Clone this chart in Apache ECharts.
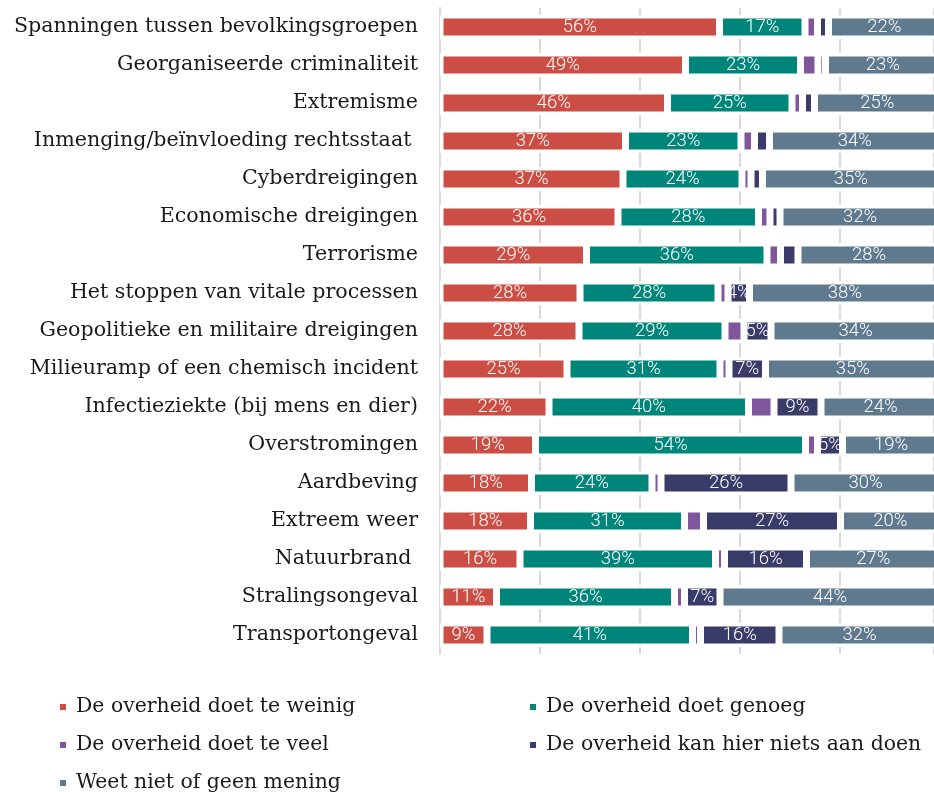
<!DOCTYPE html>
<html>
<head>
<meta charset="utf-8">
<script src="https://cdn.jsdelivr.net/npm/echarts@6/dist/echarts.min.js"></script>
<style>html,body{margin:0;padding:0;background:#fff;}#c{width:934px;height:792px;}</style>
</head>
<body>
<div id="c"></div>
<script>
const categories = [
  "Spanningen tussen bevolkingsgroepen",
  "Georganiseerde criminaliteit",
  "Extremisme",
  "Inmenging/beïnvloeding rechtsstaat ",
  "Cyberdreigingen",
  "Economische dreigingen",
  "Terrorisme",
  "Het stoppen van vitale processen",
  "Geopolitieke en militaire dreigingen",
  "Milieuramp of een chemisch incident",
  "Infectieziekte (bij mens en dier)",
  "Overstromingen",
  "Aardbeving",
  "Extreem weer",
  "Natuurbrand ",
  "Stralingsongeval",
  "Transportongeval"
];
const teWeinig = [55.9, 49.1, 45.5, 37.1, 36.6, 35.6, 29.3, 28.0, 27.8, 25.4, 21.8, 19.1, 18.3, 18.1, 16.0, 11.3, 9.4];
const genoeg   = [17.1, 23.0, 24.9, 23.1, 23.8, 28.1, 36.1, 27.6, 29.2, 30.6, 39.9, 54.0, 24.1, 30.8, 39.1, 35.6, 41.1];
const teVeel   = [2.5, 3.5, 2.1, 2.7, 1.8, 2.3, 2.7, 2.0, 3.8, 1.8, 5.1, 2.4, 1.8, 3.8, 1.8, 2.0, 1.6];
const nietsAan = [2.2, 1.5, 2.4, 3.0, 2.3, 2.0, 3.5, 4.3, 5.4, 7.3, 9.4, 5.0, 26.0, 27.4, 16.4, 7.1, 15.7];
const weetNiet = [22.3, 22.9, 25.1, 34.1, 35.3, 32.0, 28.4, 38.1, 33.8, 34.9, 23.8, 19.4, 29.8, 19.9, 26.7, 44.0, 32.2];

const seriesNames = [
  "De overheid doet te weinig",
  "De overheid doet genoeg",
  "De overheid doet te veel",
  "De overheid kan hier niets aan doen",
  "Weet niet of geen mening"
];
const seriesData = [teWeinig, genoeg, teVeel, nietsAan, weetNiet];
const colors = ["#cb4d43", "#00857a", "#7f559b", "#393b69", "#5f7a8f"];
const minLabel = [0, 0, 999, 3.9, 0];
const legendPos = [[53, 692], [523, 692], [53, 730], [523, 730], [53, 768]];

const chart = echarts.init(document.getElementById('c'), null, {renderer: 'canvas'});
const option = {
  animation: false,
  color: colors,
  grid: {left: 440, top: 8, width: 494, height: 646, containLabel: false},
  xAxis: {
    type: 'value', min: 0, max: 98.8, interval: 20,
    axisLabel: {show: false}, axisTick: {show: false}, axisLine: {show: false},
    splitLine: {show: true, lineStyle: {color: '#d9d9d9', width: 2}}
  },
  yAxis: {
    type: 'category', data: categories, inverse: true,
    axisTick: {show: false},
    axisLine: {show: true, lineStyle: {color: '#d9d9d9', width: 2}},
    axisLabel: {color: '#1a1a1a', fontFamily: 'DejaVu Serif', fontSize: 20.6, margin: 22}
  },
  legend: seriesNames.map((name, i) => ({
    data: [name],
    orient: 'horizontal', left: legendPos[i][0], top: legendPos[i][1],
    icon: 'rect', itemWidth: 8, itemHeight: 8,
    selectedMode: false,
    textStyle: {color: '#1a1a1a', fontFamily: 'DejaVu Serif', fontSize: 20.4, padding: [0, 0, 0, 4]}
  })),
  series: seriesNames.map((name, i) => ({
    name: name,
    type: 'bar',
    stack: 'total',
    barWidth: 24,
    clip: false,
    data: seriesData[i],
    itemStyle: {color: colors[i], borderColor: '#ffffff', borderWidth: 3.5},
    label: {
      show: true, position: 'inside', color: '#ffffff',
      fontFamily: 'Roboto', fontSize: 18.5, fontWeight: 300,
      formatter: p => p.value >= minLabel[i] ? Math.round(p.value) + '%' : ''
    }
  }))
};
chart.setOption(option);
</script>
</body>
</html>
